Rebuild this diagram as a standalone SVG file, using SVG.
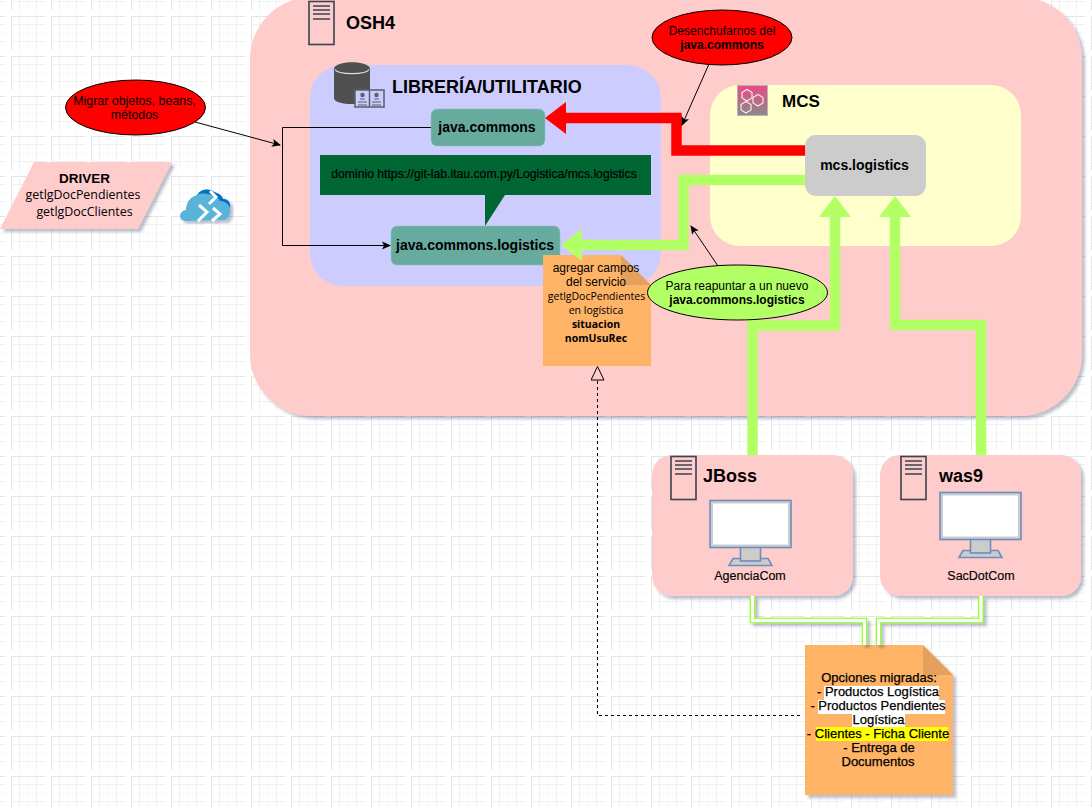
<svg xmlns="http://www.w3.org/2000/svg" width="1092" height="807" viewBox="0 0 1092 807">
<style>
text{font-family:"Liberation Sans",Arial,sans-serif;fill:#000;text-anchor:middle}
.b{font-weight:bold}
.t{font-size:18px;font-weight:bold;text-anchor:start}
.s{font-size:12.500px}
.c{font-size:12px}
.n{font-size:13px;stroke:#000;stroke-width:.25}
.o{font-family:"Open Sans","Noto Sans",sans-serif;font-size:10.500px}
.srv{fill:none;stroke:#3b4250;stroke-width:1.600}
.note{fill:#FFB366}
.fold{fill:#000;fill-opacity:.1}
.ell{stroke:#000;stroke-width:1}
.red{fill:#FF0000}
.lime{fill:#B3FF66}
.thick{fill:none;stroke-width:10.500;stroke-linejoin:miter}
.thin{fill:none;stroke:#000;stroke-width:1}
.mon{fill:#CCCCCC;stroke:#6C8EBF;stroke-width:1.600}
.teal{fill:#67AB9F;stroke:#8fc4ba;stroke-width:.6}
</style>
<defs>
<filter id="sh" x="-5%" y="-5%" width="112%" height="112%"><feDropShadow dx="3" dy="3" stdDeviation="1.800" flood-color="#3b4a70" flood-opacity=".35"/></filter>
<pattern id="grid" width="40" height="40" patternUnits="userSpaceOnUse" patternTransform="translate(11 16)">
<path d="M.5 0V34M0 .5H34" fill="none" stroke="#e4e4e4"/>
<path d="M8.500 0V34M25.500 0V34M0 8.500H34M0 25.500H34" fill="none" stroke="#f1f1f1"/>
<path d="M17 0V34M0 17H34" fill="none" stroke="#f8f8f8"/>
</pattern>
<marker id="hRed" markerUnits="userSpaceOnUse" markerWidth="21" markerHeight="32" refX="0" refY="16" orient="auto"><path d="M0 0L21 16L0 32Z" fill="#FF0000"/></marker>
<marker id="hLime" markerUnits="userSpaceOnUse" markerWidth="21" markerHeight="32" refX="0" refY="16" orient="auto"><path d="M0 0L21 16L0 32Z" fill="#B3FF66"/></marker>
<marker id="ar" markerUnits="userSpaceOnUse" markerWidth="9" markerHeight="9" refX="8" refY="4.500" orient="auto"><path d="M0 .5L9 4.500L0 8.500L2 4.500Z" fill="#000"/></marker>
<marker id="tri" markerUnits="userSpaceOnUse" markerWidth="15" markerHeight="15" refX="0.500" refY="7" orient="auto"><path d="M.5 .5L14 7L.5 13.500Z" fill="none" stroke="#000"/></marker>
<linearGradient id="mcsg" x1="0" y1="0" x2="0" y2="1"><stop offset="0" stop-color="#EC4A85"/><stop offset="1" stop-color="#8a8a8a"/></linearGradient>
</defs>
<rect width="1092" height="807" fill="#fff"/>
<rect width="1092" height="807" fill="url(#grid)"/>

<g id="osh4">
<rect x="250" y="-3" width="832" height="419" rx="62" fill="#FFCCCC" filter="url(#sh)"/>
<rect class="srv" x="309" y="1.500" width="25" height="43"/>
<path class="srv" d="M313 6H330M313 10H330M313 14H330M313 19H330"/>
<text class="t" x="346" y="29">OSH4</text>
</g>
<g id="libreria">
<rect x="310" y="65" width="351" height="221" rx="33" fill="#CCCCFF"/>
<path d="M334 69C334 60 370 60 370 69V98C370 106 334 106 334 98Z" fill="#505050"/>
<path d="M335 69.500C338 75 366 75 369 69.500" fill="none" stroke="#ddd" stroke-width="1.200"/>
<path d="M355 90H384V107H355Z" fill="#CCCCFF" stroke="#5a5f6b" stroke-width="1.500"/>
<path d="M369.500 90V107" stroke="#5a5f6b" stroke-width="1.500"/>
<path d="M358 102H367M372 102H381M358 105H367M372 105H381M360 99H365M374 99H379" stroke="#5a5f6b"/>
<circle cx="362.500" cy="95" r="2.200" fill="#5a5f6b"/>
<circle cx="376.500" cy="95" r="2.200" fill="#5a5f6b"/>
<text class="t" x="392" y="93">LIBRERÍA/UTILITARIO</text>
</g>
<g id="mcs">
<rect x="710" y="85" width="311" height="161" rx="30" fill="#FFFFCC"/>
<rect x="737.500" y="85.500" width="30" height="30" fill="url(#mcsg)" stroke="#b5b5b5"/>
<g fill="none" stroke="#fff" stroke-width="1.200" stroke-opacity=".85">
<path d="M742 92.500L747 89.500L752 92.500V98L747 101L742 98Z"/>
<path d="M753 97.500L758 94.500L763 97.500V103L758 106L753 103Z"/>
<path d="M741 104.500L746 101.500L751 104.500V110L746 113L741 110Z"/>
</g>
<text class="t" x="782" y="107" style="font-size:17px">MCS</text>
</g>
<g id="java-commons">
<rect class="teal" x="431" y="109" width="114" height="37" rx="6"/>
<text class="b" x="487" y="132" style="font-size:14px">java.commons</text>
</g>
<g id="callout-dominio">
<path d="M320 155H651V195H505L485 226V195H320Z" fill="#006633"/>
<text x="484" y="178" style="font-size:12.200px;stroke:#000;stroke-width:.2">dominio https://git-lab.itau.com.py/Logistica/mcs.logistics</text>
</g>
<g id="java-commons-logistics">
<rect class="teal" x="391" y="226" width="169" height="39" rx="6"/>
<text class="b" x="475" y="250" style="font-size:14px">java.commons.logistics</text>
</g>
<g id="nota-campos">
<path class="note" d="M543 255H621L651 285V366H543Z"/>
<path class="fold" d="M621 255V285H651Z"/>
<text class="c" x="596" y="272">agregar campos</text>
<text class="c" x="596" y="286">del servicio</text>
<text class="o" x="596.500" y="300">getlgDocPendientes</text>
<text class="o" x="596" y="314">en logística</text>
<text class="o b" x="596" y="328">situacion</text>
<text class="o b" x="596" y="342">nomUsuRec</text>
</g>
<g id="jboss">
<rect x="652" y="455" width="201" height="141" rx="20" fill="#FFCCCC" filter="url(#sh)"/>
<rect class="srv" x="671" y="456.500" width="25" height="43"/>
<path class="srv" d="M675 461H692M675 465H692M675 469H692M675 474H692"/>
<text class="t" x="703" y="482">JBoss</text>
<path class="mon" d="M729 565.500L733 558.500H768L772 565.500Z"/>
<rect class="mon" x="740.500" y="547" width="20" height="14"/>
<rect class="mon" x="710" y="500.500" width="81" height="47"/>
<rect x="713" y="503.500" width="75" height="41" fill="#fff"/>
<text class="s" x="750" y="580" style="stroke:#000;stroke-width:.15">AgenciaCom</text>
</g>
<g id="was9">
<rect x="880" y="455" width="201" height="141" rx="20" fill="#FFCCCC" filter="url(#sh)"/>
<rect class="srv" x="901" y="456.500" width="25" height="43"/>
<path class="srv" d="M905 461H922M905 465H922M905 469H922M905 474H922"/>
<text class="t" x="939" y="482">was9</text>
<path class="mon" d="M959 557.500L963 550.500H998L1002 557.500Z"/>
<rect class="mon" x="970.500" y="539" width="20" height="14"/>
<rect class="mon" x="940" y="492.500" width="81" height="47"/>
<rect x="943" y="495.500" width="75" height="41" fill="#fff"/>
<text class="s" x="981" y="580" style="stroke:#000;stroke-width:.15">SacDotCom</text>
</g>
<g id="nota-opciones">
<path class="note" d="M805 645H923L953 675V795H805Z" filter="url(#sh)"/>
<path class="fold" d="M923 645V675H953Z"/>
<rect x="824" y="686" width="115" height="14" fill="#fff"/>
<rect x="818" y="700" width="127" height="14" fill="#fff"/>
<rect x="852" y="714" width="53" height="14" fill="#fff"/>
<rect x="816" y="727" width="132" height="14" fill="#FFFF00"/>
<text class="n" x="879" y="682">Opciones migradas:</text>
<text class="n" x="878" y="696">- Productos Logística</text>
<text class="n" x="878" y="710">- Productos Pendientes</text>
<text class="n" x="878.500" y="724">Logística</text>
<text class="n" x="878" y="738">- Clientes - Ficha Cliente</text>
<text class="n" x="879" y="752">- Entrega de</text>
<text class="n" x="878" y="766">Documentos</text>
</g>
<g id="connectors">
<path class="thick" stroke="#FF0000" d="M805 150.500H676.500V118H566" marker-end="url(#hRed)"/>
<path class="thick" stroke="#B3FF66" d="M805 180H683.500V245H582" marker-end="url(#hLime)"/>
<path class="thick" stroke="#B3FF66" d="M752.500 455V325.500H835V217" marker-end="url(#hLime)"/>
<path class="thick" stroke="#B3FF66" d="M981 455V325H895V217" marker-end="url(#hLime)"/>
<path class="thin" d="M431 127.500H282.500V245.500H390" marker-end="url(#ar)"/>
<path class="thin" d="M195 122L280 145" marker-end="url(#ar)"/>
<path class="thin" d="M709 64L682 125" marker-end="url(#ar)"/>
<path class="thin" d="M718 266L691 226" marker-end="url(#ar)"/>
<path class="thin" stroke-dasharray="3 3" d="M800 715.500H597.500V380" marker-end="url(#tri)"/>
<g filter="url(#sh)">
<path fill="none" stroke="#80FF00" stroke-width="5.600" d="M752.500 596V620.500H864.500V645"/>
<path fill="none" stroke="#80FF00" stroke-width="5.600" d="M981 596V620.500H878.500V645"/>
<path fill="none" stroke="#fff" stroke-width="3.400" d="M752.500 596V620.500H864.500V645"/>
<path fill="none" stroke="#fff" stroke-width="3.400" d="M981 596V620.500H878.500V645"/>
</g>
</g>
<g id="mcs-logistics">
<rect x="805" y="135" width="121" height="61" rx="11" fill="#CCCCCC"/>
<text class="b" x="864.500" y="170" style="font-size:14px">mcs.logistics</text>
</g>
<g id="nota-desenchufar">
<ellipse class="ell red" cx="722" cy="37.500" rx="70" ry="27.500"/>
<text class="c" x="722" y="35">Desenchufarnos del</text>
<text class="c b" x="722" y="49">java.commons</text>
</g>
<g id="nota-migrar">
<ellipse class="ell red" cx="135.500" cy="107.500" rx="70" ry="27.500"/>
<text class="c" x="134.500" y="105" style="font-size:12.400px">Migrar objetos, beans,</text>
<text class="c" x="134.500" y="119" style="font-size:12.400px">métodos</text>
</g>
<g id="nota-reapuntar">
<ellipse class="ell lime" cx="737.500" cy="292.500" rx="90" ry="27.500"/>
<text class="c" x="737" y="290">Para reapuntar a un nuevo</text>
<text class="c b" x="737" y="304">java.commons.logistics</text>
</g>
<g id="driver">
<path d="M34 162H172L138 229H0Z" fill="#FFCCCC" filter="url(#sh)"/>
<text class="b" x="84.500" y="183" style="font-size:13.500px">DRIVER</text>
<text x="83" y="199" style="font-family:'Open Sans','Noto Sans',sans-serif;font-size:12.400px">getlgDocPendientes</text>
<text x="84.500" y="216" style="font-family:'Open Sans','Noto Sans',sans-serif;font-size:12.400px">getlgDocClientes</text>
</g>
<g id="cloud" filter="url(#sh)">
<path d="M186 221C178 221 178 211 186 210C186 203 190 197 197 195C201 189 209 188 214 192C220 194 222 196 223 199C229 199 231 204 230 208C231 214 228 220 224 220Z" fill="#59B4D9"/>
<path d="M197 195C201 189 209 188 214 192C220 194 222 196 223 199C229 199 231 204 230 208C228 203 224 201 220 201C218 196 205 191 197 195Z" fill="#0072C6"/>
<path d="M199 205L207 212L198 221M213 208L220 214L212 221M210 191L216 197L209 204" fill="none" stroke="#fff" stroke-width="3"/>
</g>
</svg>
